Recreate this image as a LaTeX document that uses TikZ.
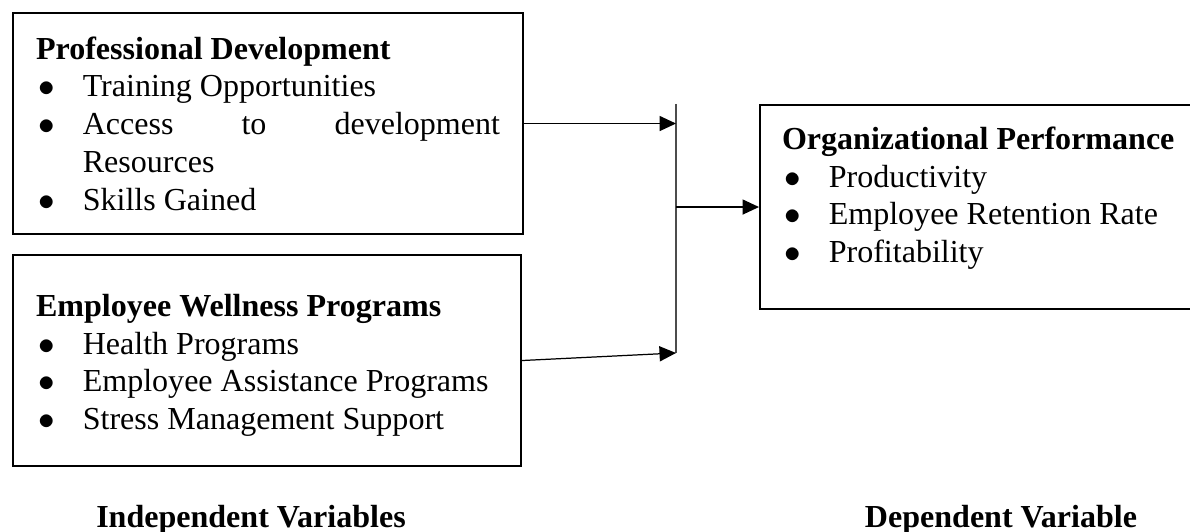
\documentclass[tikz,border=0pt]{standalone}
\usepackage{fontspec}
\setmainfont{Liberation Serif}
\usetikzlibrary{arrows.meta}
\hyphenpenalty=10000
\hbadness=10000
\newcommand*{\px  }{0.3636pt}
\newcommand*{\bind}{17pt}
\newcommand*{\bitem}[1]{\par\hangindent=\bind\hangafter=1\noindent\makebox[\bind][l]{\hspace{1pt}$\bullet$}#1}

\begin{document}
\begin{tikzpicture}[x=\px, y=-\px,
    font=\fontsize{11.65pt}{13.7pt}\selectfont,
    varbox/.style={draw, line width=0.75pt, anchor=north west, align=justify, inner ysep=0pt},
    link/.style={line width=0.45pt, -{Triangle[length=6pt,width=5.5pt]}},
    joinline/.style={line width=0.6pt, draw=black!70},
    caption/.style={anchor=base, font=\fontsize{11.65pt}{13.7pt}\selectfont\bfseries}]
    \useasboundingbox (0,0) rectangle (1190,532);
        \node [varbox, inner xsep=23*\px, text width=464*\px, minimum height=221*\px] (pd) at (12,12)
            {\noindent\mbox{\textbf{Professional Development}}\bitem{Training Opportunities}\bitem{Access to development Resources}\bitem{Skills Gained}};
        \node [varbox, inner xsep=23*\px, text width=462*\px, minimum height=211*\px] (ew) at (12,254)
            {\noindent\rule{0pt}{11.5pt}\mbox{\textbf{Employee Wellness Programs}}\bitem{Health Programs}\bitem{Employee Assistance Programs}\bitem{Stress Management Support}};
        \node [varbox, inner xsep=22*\px, text width=396*\px, minimum height=204*\px] (op) at (759,104)
            {\noindent\mbox{\textbf{Organizational Performance}}\bitem{Productivity}\bitem{Employee Retention Rate}\bitem{Profitability\rule[-9pt]{0pt}{9pt}}};
        \coordinate (jtop) at (676,104);
        \coordinate (jbot) at (676,353);
        \draw [joinline] (jtop) -- (jbot);
        \draw [link] (pd.east) -- (pd.east -| jtop);
        \draw [link] (ew.east) -- (jbot);
        \draw [link] (jtop |- op.west) -- (op.west);
        \node [caption] (iv) at (251,528) {Independent Variables};
        \node [caption] (dv) at (1001,528) {Dependent Variable};
\end{tikzpicture}
\end{document}
